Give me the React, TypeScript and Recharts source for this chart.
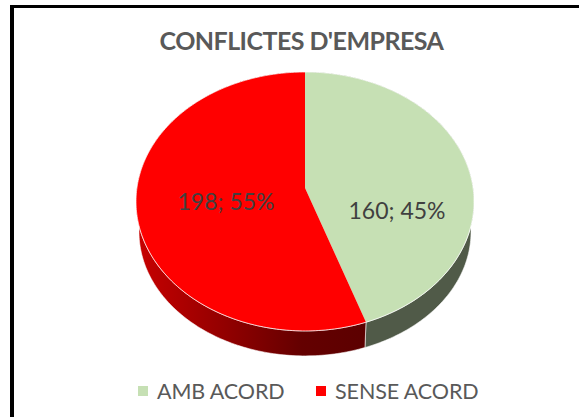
import { Legend, Pie, PieChart } from 'recharts'

const CATEGORIES = ['AMB ACORD', 'SENSE ACORD']
const VALUES = [160, 198]
const PERCENTS = ['45%', '55%']
const TOP_COLORS = ['#c6e0b4', '#ff0000']
const WALL_COLORS = ['#505a48', 'url(#redWall)']

const TEXT = '#595959'
const LABEL = '#404040'
const FONT = 'Lato, sans-serif'

// how far each data label sits from the pie centre (hand placed in the original)
const LABEL_OFFSETS = [[92, 22], [-79, 13]]

// the disc is seen in perspective, so the centre is not the middle of the ellipse
const TILT = 0.104
const TOP_SQUASH = 0.766
const WALL_SQUASH = 0.747
const TOP_CY = 188
const TOP_R = 169
const WALL_CY = 219
const WALL_R = 166

const rows = CATEGORIES.map((name, i) => ({ name, value: VALUES[i], fill: TOP_COLORS[i], pct: PERCENTS[i] }))
const wallRows = CATEGORIES.map((name, i) => ({ name, value: VALUES[i], fill: WALL_COLORS[i] }))

function project (cx: number, cy: number, r: number, squash: number, deg: number) {
  const a = (deg * Math.PI) / 180
  const u = Math.cos(a)
  const v = -Math.sin(a)
  const k = Math.sqrt(1 - TILT * TILT)
  const d = 1 - TILT * v
  return [cx + (r * k * u) / d, cy + (r * squash * k * k * v) / d]
}

function arcPoints (p: any, cy: number, r: number, squash: number) {
  const pts: string[] = []
  const steps = Math.ceil(Math.abs(p.endAngle - p.startAngle))
  for (let i = 0; i <= steps; i++) {
    const deg = p.startAngle + ((p.endAngle - p.startAngle) * i) / steps
    const [x, y] = project(p.cx, cy, r, squash, deg)
    pts.push(`${x.toFixed(2)} ${y.toFixed(2)}`)
  }
  return pts
}

function TopWedge (p: any) {
  const pts = arcPoints(p, TOP_CY, TOP_R, TOP_SQUASH)
  return (
    <g>
      <path d={`M${p.cx} ${TOP_CY}L${pts.join('L')}Z`} fill={p.fill} stroke="none" />
      <path d={`M${pts.join('L')}`} fill="none" stroke="#ffffff" strokeOpacity={0.7} strokeWidth={1} />
    </g>
  )
}

// band between the rim of the top face and the rim of the lower disc
function WallWedge (p: any) {
  const upper = arcPoints(p, TOP_CY, TOP_R, TOP_SQUASH)
  const lower = arcPoints(p, WALL_CY, WALL_R, WALL_SQUASH).reverse()
  return <path d={`M${upper.concat(lower).join('L')}Z`} fill={p.fill} stroke="#ffffff" strokeOpacity={0.7} strokeWidth={0.8} />
}

function PieLabel (p: any) {
  const [dx, dy] = LABEL_OFFSETS[p.index]
  return (
    <text x={p.cx + dx} y={TOP_CY + dy} fill={LABEL} fontSize={23} fontFamily={FONT} textAnchor="middle" dominantBaseline="central">
      {`${p.value}; ${rows[p.index].pct}`}
    </text>
  )
}

function LegendRow ({ payload }: any) {
  // the wall pie also reports its sectors, only the top face belongs in the legend
  const items = (payload ?? []).filter((item: any) => TOP_COLORS.includes(item.color))
  return (
    <div style={{ display: 'flex', alignItems: 'center', marginLeft: 138, fontFamily: FONT, fontSize: 21.5, letterSpacing: -0.1, color: TEXT, lineHeight: '30px', whiteSpace: 'nowrap' }}>
      {items.map((item: any) => (
        <div key={item.value} style={{ display: 'flex', alignItems: 'center', width: 178, flex: 'none' }}>
          <span style={{ width: 10, height: 10, background: item.color, marginRight: 9, flex: 'none' }} />
          <span>{item.value}</span>
        </div>
      ))}
    </div>
  )
}

export default function App () {
  return (
    <div style={{ position: 'absolute', left: 0, top: 0, width: 579, height: 417, overflow: 'hidden', background: '#fff' }}>
      <div style={{ position: 'absolute', left: 10, top: 5, width: 569, height: 3, background: '#000' }} />
      <div style={{ position: 'absolute', left: 10, top: 5, width: 4, height: 412, background: '#000' }} />
      <div style={{ position: 'absolute', left: 0, top: 25, width: 603, textAlign: 'center', fontFamily: FONT, fontWeight: 700, fontSize: 25, letterSpacing: -0.55, color: TEXT, lineHeight: '30px' }}>
        CONFLICTES D'EMPRESA
      </div>
      <PieChart width={579} height={417} margin={{ top: 0, right: 0, bottom: 0, left: 0 }} style={{ position: 'absolute', left: 0, top: 0 }}>
        <defs>
          <linearGradient id="redWall" x1="0" y1="0" x2="1" y2="0">
            <stop offset="0%" stopColor="#c80000" />
            <stop offset="72%" stopColor="#640000" />
            <stop offset="100%" stopColor="#5c0000" />
          </linearGradient>
        </defs>
        <Pie
          data={wallRows}
          dataKey="value"
          nameKey="name"
          cx={305}
          cy={WALL_CY}
          outerRadius={WALL_R}
          startAngle={90}
          endAngle={-270}
          stroke="none"
          legendType="none"
          shape={WallWedge}
          isAnimationActive={false}
        />
        <Pie
          data={rows}
          dataKey="value"
          nameKey="name"
          cx={305}
          cy={TOP_CY}
          outerRadius={TOP_R}
          startAngle={90}
          endAngle={-270}
          stroke="none"
          shape={TopWedge}
          label={PieLabel}
          labelLine={false}
          isAnimationActive={false}
        />
        <Legend content={<LegendRow />} wrapperStyle={{ left: 0, top: 376, width: 579 }} />
      </PieChart>
    </div>
  )
}
